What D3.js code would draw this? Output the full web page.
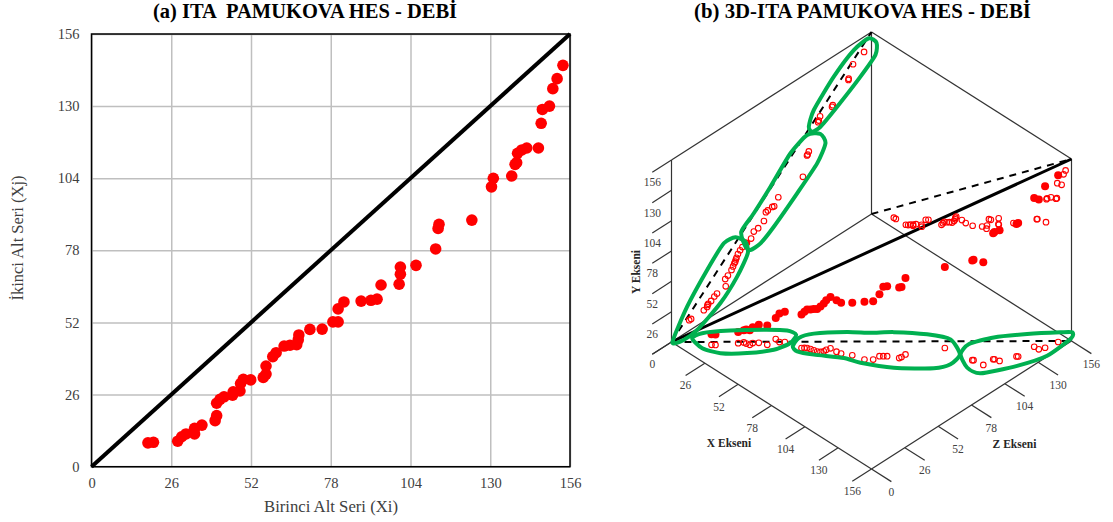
<!DOCTYPE html>
<html>
<head>
<meta charset="utf-8">
<script src="https://cdn.jsdelivr.net/npm/d3@7"></script>
<style>
html, body { margin: 0; padding: 0; background: #fff; }
svg { display: block; }
text { font-family: "Liberation Serif", serif; }
</style>
</head>
<body>
<script>
// tick labels used on both panels
let tickVals = [0, 26, 52, 78, 104, 130, 156];

// (a) first sub series vs second sub series
let xiVals = [18.4, 20.2, 28.1, 29.4, 30.8, 33.6, 33.6, 36, 40.3, 40.8, 40.8, 41.9, 43.2, 46, 46.2, 48.4, 48.6, 49.5, 51.9, 56, 56.9, 56.9, 59.1, 60.2, 62.8, 64.7, 66.9, 67.4, 67.6, 71.2, 75.2, 78.7, 80.4, 80.4, 82.3, 87.9, 91.1, 93.1, 94.4, 100.3, 100.7, 100.7, 105.8, 112.2, 113, 113.3, 124, 130.4, 131, 137, 138.1, 138.6, 138.9, 140.3, 141.9, 145.7, 146.6, 147, 149.3, 150.4, 151.8, 153.7];
let xjVals = [8.6, 8.8, 9.2, 10.8, 11.8, 11.8, 13.8, 15, 16.6, 18.4, 22.9, 24.3, 25.2, 25.8, 27, 27.3, 30, 31.5, 31.3, 32.2, 33.4, 36.3, 39.7, 41.1, 43.5, 43.8, 44, 45.7, 47.5, 49.5, 49.6, 52.2, 52.2, 56.9, 59.4, 59.7, 60, 60.4, 65.5, 65.8, 69.4, 72, 72.6, 78.5, 85.9, 87.4, 88.9, 100.9, 104, 104.8, 109, 109.6, 113, 114.2, 114.9, 114.9, 123.8, 128.8, 130, 136.3, 139.9, 144.7];

// (b) three sub series
let xVals = [17.4, 19, 26.8, 28.6, 30.2, 32.4, 32.5, 34.7, 39.2, 39, 42.3, 44.4, 54.6, 55.7, 56.8, 58.7, 60.8, 62.9, 64.4, 65.3, 65.4, 66.1, 70.5, 73.5, 78.9, 86.3, 89.7, 90.1, 91.6, 93.1, 99, 99.3, 99.2, 110.7, 128.9, 129.4, 136.1, 136.5, 137, 140, 143.9, 144.6, 144.9, 148.3, 149.8, 151.4];
let yVals = [9, 9, 9.5, 10.5, 12, 12.5, 13.5, 15.5, 16.5, 18, 24.5, 26, 28.8, 31, 33, 33.9, 35.4, 36.5, 39, 41, 42.5, 44, 44, 43.5, 45, 49.5, 50, 53, 59.5, 60, 60.5, 60, 65.5, 69.5, 85.5, 86, 88, 108, 109, 112, 113.5, 114.5, 127.5, 128.5, 138.5, 143];
let zVals = [13.8, 15.3, 25.2, 27.8, 28.1, 28.7, 30.9, 33.4, 35.5, 42.3, 41.9, 44, 46.8, 48, 49, 49.7, 50.2, 50.7, 51.8, 53.5, 55.3, 57.9, 58.2, 58.8, 62.1, 64.2, 67.6, 72.1, 73.6, 75.1, 78.6, 80.1, 83.3, 102.5, 105.7, 106.2, 107.1, 114.4, 114.9, 115.9, 125.2, 125.8, 138, 138.2, 141.6, 150.2];

// green rings, wall x=0 as [y, z], floor y=0 as [x, z]
let wallRing1 = [[-0.6, 0.8], [21.7, 12.2], [42.2, 27.8], [55.9, 40.8], [54.6, 49.9], [45.4, 57.7], [34.2, 59.5], [20, 51.2], [6.5, 38.2], [-3.8, 20], [-4.9, 9.4]];
let wallRing2 = [[41.1, 57.7], [56.3, 54.4], [65.2, 64.2], [78.8, 77.2], [96.5, 92.8], [103, 105.8], [96.6, 116.2], [85.9, 120.1], [73.2, 113.6], [58.5, 98], [42.7, 79.8], [35.8, 69.4], [35.5, 61.6]];
let wallRing3 = [[103.1, 109.7], [109.2, 107.1], [120.8, 111], [138.4, 126.6], [150.2, 142.2], [152.1, 153.9], [144.1, 159.9], [134.2, 159.1], [123.8, 147.4], [110.8, 129.2], [102.8, 116.2]];
let floorRing1 = [[5.8, 10.3], [6.6, 17.3], [16.1, 29.9], [28.7, 43.3], [38.2, 52], [44.3, 52.9], [47.2, 45.6], [44.8, 35], [36.4, 22.6], [26, 12.2], [15.9, 8.1]];
let floorRing2 = [[50.2, 44.4], [47.4, 51.9], [50.6, 60.4], [62.6, 74.4], [72.3, 82.9], [81, 92.4], [95.4, 104], [107.6, 110], [120.4, 104.5], [122.9, 94.7], [118.8, 85.8], [102.8, 70.6], [86.7, 60.7], [77.2, 57.2], [63.5, 47.6], [54.9, 43.1]];
let floorRing3 = [[120.7, 104.8], [117.7, 114.1], [123.4, 128], [134.4, 143], [146.4, 157], [151, 161.6], [154.2, 157.5], [155.5, 137.5], [149.9, 119.7], [140.1, 100.9], [131.4, 99.2]];

let w = 1113;
let h = 522;
let tickColor = "#404040";

const svg = d3.select("body")
    .append("svg")
    .attr("width", w)
    .attr("height", h);

// ---- panel (a) ----
const xScale = d3.scaleLinear().domain([0, 156]).range([91.5, 570]);
const yScale = d3.scaleLinear().domain([0, 156]).range([466.7, 34]);

const plotA = svg.append("g");

plotA.append("g")
    .attr("transform", "translate(0," + yScale(0) + ")")
    .call(d3.axisBottom(xScale).tickValues(tickVals).tickSize(yScale(156) - yScale(0)).tickFormat(""))
    .call(g => g.select(".domain").remove())
    .selectAll("line").attr("stroke", "#bfbfbf").attr("stroke-width", 1.5);

plotA.append("g")
    .attr("transform", "translate(" + xScale(0) + ",0)")
    .call(d3.axisLeft(yScale).tickValues(tickVals).tickSize(xScale(0) - xScale(156)).tickFormat(""))
    .call(g => g.select(".domain").remove())
    .selectAll("line").attr("stroke", "#bfbfbf").attr("stroke-width", 1.5);

plotA.append("rect")
    .attr("x", xScale(0))
    .attr("y", yScale(156))
    .attr("width", xScale(156) - xScale(0))
    .attr("height", yScale(0) - yScale(156))
    .attr("fill", "none")
    .attr("stroke", "#000")
    .attr("stroke-width", 1.5);

// tick labels
const xAxisA = plotA.append("g")
    .attr("transform", "translate(0," + yScale(0) + ")")
    .call(d3.axisBottom(xScale).tickValues(tickVals).tickSize(0).tickPadding(11));
const yAxisA = plotA.append("g")
    .attr("transform", "translate(" + xScale(0) + ",0)")
    .call(d3.axisLeft(yScale).tickValues(tickVals).tickSize(0).tickPadding(12));
[xAxisA, yAxisA].forEach(a => {
    a.select(".domain").remove();
    a.selectAll("text")
        .style("font-family", '"Liberation Serif", serif')
        .style("font-size", "14.5px")
        .attr("fill", tickColor);
});

plotA.append("line")
    .attr("x1", xScale(0)).attr("y1", yScale(0))
    .attr("x2", xScale(156)).attr("y2", yScale(156))
    .attr("stroke", "#000")
    .attr("stroke-width", 4);

plotA.selectAll("circle")
    .data(xiVals)
    .enter()
    .append("circle")
    .attr("cx", d => xScale(d))
    .attr("cy", (d, i) => yScale(xjVals[i]))
    .attr("r", 5.8)
    .attr("fill", "#ff0000");

svg.append("text")
    .attr("x", 305).attr("y", 18)
    .attr("text-anchor", "middle")
    .attr("font-weight", "bold")
    .style("font-size", "20.5px")
    .style("white-space", "pre")
    .text("(a) ITA  PAMUKOVA HES - DEBİ");

svg.append("text")
    .attr("x", 331).attr("y", 512)
    .attr("text-anchor", "middle")
    .attr("fill", tickColor)
    .style("font-size", "16.7px")
    .text("Birinci Alt Seri (Xi)");

svg.append("text")
    .attr("transform", "translate(23,238) rotate(-90)")
    .attr("text-anchor", "middle")
    .attr("fill", tickColor)
    .style("font-size", "16.5px")
    .text("İkinci Alt Seri (Xj)");

// ---- panel (b), oblique box ----
const originX = 671.5;
const originY = 342;
const xToPx = d3.scaleLinear().domain([0, 156]).range([0, 200]);
const xToPy = d3.scaleLinear().domain([0, 156]).range([0, 127]);
const zToPx = d3.scaleLinear().domain([0, 156]).range([0, 200]);
const zToPy = d3.scaleLinear().domain([0, 156]).range([0, -128]);
const yToPy = d3.scaleLinear().domain([0, 156]).range([0, -182]);

function project(x, y, z) {
    return [originX + xToPx(x) + zToPx(z), originY + xToPy(x) + zToPy(z) + yToPy(y)];
}

const plotB = svg.append("g");
const path3d = d3.line();

// box frame
let boxEdges = [
    [[0, 0, 0], [156, 0, 0]], [[156, 0, 0], [156, 0, 156]],
    [[0, 0, 0], [0, 0, 156]], [[0, 0, 156], [156, 0, 156]],
    [[0, 0, 0], [0, 156, 0]], [[0, 0, 156], [0, 156, 156]], [[156, 0, 156], [156, 156, 156]],
    [[0, 156, 0], [0, 156, 156]], [[0, 156, 156], [156, 156, 156]]
];
plotB.selectAll(".edge")
    .data(boxEdges)
    .enter()
    .append("path")
    .attr("class", "edge")
    .attr("d", d => path3d(d.map(p => project(p[0], p[1], p[2]))))
    .attr("fill", "none")
    .attr("stroke", "#333")
    .attr("stroke-width", 1.2);

// ticks and labels of the three axes
function tickLabels(name, pos, tip) {
    plotB.selectAll(".tick-" + name)
        .data(tickVals)
        .enter()
        .append("path")
        .attr("class", "tick-" + name)
        .attr("d", d => path3d([pos(d), tip(d)].map(p => project(p[0], p[1], p[2]))))
        .attr("stroke", "#333")
        .attr("stroke-width", 1.2);
    // x and y share the corner label 0
    plotB.selectAll(".label-" + name)
        .data(name == "x" ? tickVals.slice(1) : tickVals)
        .enter()
        .append("text")
        .attr("class", "label-" + name)
        .attr("x", d => project(...tip(d))[0])
        .attr("y", d => project(...tip(d))[1] + 14)
        .attr("text-anchor", "middle")
        .attr("fill", tickColor)
        .style("font-size", "11.5px")
        .text(d => d);
}
tickLabels("x", d => [d, 0, 0], d => [d, 0, -15]);
tickLabels("y", d => [0, d, 0], d => [0, d, -15]);
tickLabels("z", d => [156, 0, d], d => [171.5, 0, d]);

// y=x guide lines on the walls
let dashedLines = [
    [[0, 0, 0], [0, 156, 156]],
    [[0, 0, 156], [156, 156, 156]],
    [[0, 0, 0], [156, 0, 156]]
];
plotB.selectAll(".guide")
    .data(dashedLines)
    .enter()
    .append("path")
    .attr("class", "guide")
    .attr("d", d => path3d(d.map(p => project(p[0], p[1], p[2]))))
    .attr("stroke", "#000")
    .attr("stroke-width", 2)
    .attr("stroke-dasharray", "7 6");

plotB.append("path")
    .attr("d", path3d([project(0, 0, 0), project(156, 156, 156)]))
    .attr("stroke", "#000")
    .attr("stroke-width", 3);

// projections, open markers
let shadows = [
    (x, y, z) => project(x, 0, z),
    (x, y, z) => project(0, y, z),
    (x, y, z) => project(x, y, 156)
];
shadows.forEach(f => {
    plotB.append("g").selectAll("circle")
        .data(xVals)
        .enter()
        .append("circle")
        .attr("cx", (d, i) => f(d, yVals[i], zVals[i])[0])
        .attr("cy", (d, i) => f(d, yVals[i], zVals[i])[1])
        .attr("r", 2.8)
        .attr("fill", "none")
        .attr("stroke", "#ff0000")
        .attr("stroke-width", 1.1);
});

// the points in the box
plotB.append("g").selectAll("circle")
    .data(xVals)
    .enter()
    .append("circle")
    .attr("cx", (d, i) => project(d, yVals[i], zVals[i])[0])
    .attr("cy", (d, i) => project(d, yVals[i], zVals[i])[1])
    .attr("r", 4)
    .attr("fill", "#ff0000");

// green rings
const ringLine = d3.line().curve(d3.curveCardinalClosed.tension(0.35));
[wallRing1, wallRing2, wallRing3].forEach(r => {
    plotB.append("path")
        .attr("d", ringLine(r.map(p => project(0, p[0], p[1]))))
        .attr("fill", "none")
        .attr("stroke", "#00b050")
        .attr("stroke-width", 4);
});
[floorRing1, floorRing2, floorRing3].forEach(r => {
    plotB.append("path")
        .attr("d", ringLine(r.map(p => project(p[0], 0, p[1]))))
        .attr("fill", "none")
        .attr("stroke", "#00b050")
        .attr("stroke-width", 4);
});

svg.append("text")
    .attr("x", 862.5).attr("y", 18)
    .attr("text-anchor", "middle")
    .attr("font-weight", "bold")
    .style("font-size", "20.8px")
    .text("(b) 3D-ITA PAMUKOVA HES - DEBİ");

svg.append("text")
    .attr("x", 729).attr("y", 446.5)
    .attr("text-anchor", "middle")
    .attr("font-weight", "bold")
    .attr("fill", "#262626")
    .style("font-size", "11.5px")
    .text("X Ekseni");

svg.append("text")
    .attr("x", 1014.5).attr("y", 448)
    .attr("text-anchor", "middle")
    .attr("font-weight", "bold")
    .attr("fill", "#262626")
    .style("font-size", "11.5px")
    .text("Z Ekseni");

svg.append("text")
    .attr("transform", "translate(639.5,272) rotate(-90)")
    .attr("text-anchor", "middle")
    .attr("font-weight", "bold")
    .attr("fill", "#262626")
    .style("font-size", "11.5px")
    .text("Y Ekseni");
</script>
</body>
</html>
